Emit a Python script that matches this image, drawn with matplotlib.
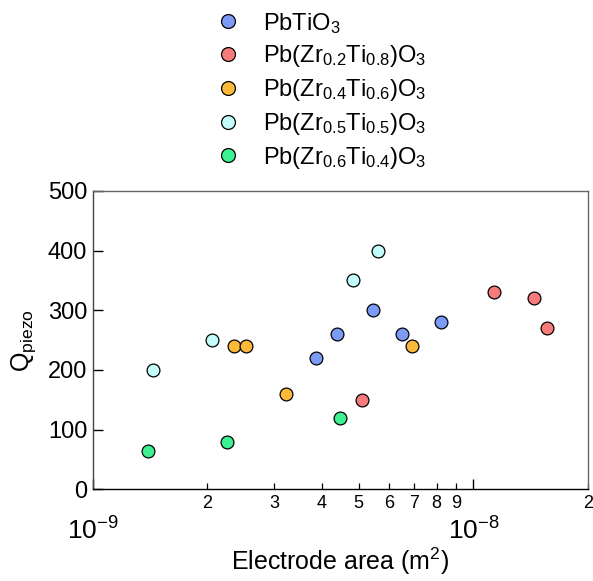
import matplotlib
matplotlib.use("Agg")
import matplotlib.pyplot as plt
from matplotlib.ticker import FixedLocator, FixedFormatter
from matplotlib.lines import Line2D

plt.rcParams['font.family'] = ['Liberation Sans', 'DejaVu Sans']
plt.rcParams['mathtext.fontset'] = 'custom'
plt.rcParams['mathtext.rm'] = 'Liberation Sans'
plt.rcParams['mathtext.it'] = 'Liberation Sans:italic'
plt.rcParams['mathtext.bf'] = 'Liberation Sans:bold'
plt.rcParams['mathtext.default'] = 'regular'

# ---- data ----
labels = [r'PbTiO$_3$',
          r'Pb(Zr$_{0.2}$Ti$_{0.8}$)O$_3$',
          r'Pb(Zr$_{0.4}$Ti$_{0.6}$)O$_3$',
          r'Pb(Zr$_{0.5}$Ti$_{0.5}$)O$_3$',
          r'Pb(Zr$_{0.6}$Ti$_{0.4}$)O$_3$']
colors = ['#7b9bf7', '#f77b7b', '#fdb93a', '#c3fdfb', '#3df193']

pto_x = [3.86e-9, 4.38e-9, 5.44e-9, 6.51e-9, 8.22e-9]
pto_y = [220, 260, 300, 260, 280]
pzt28_x = [5.10e-9, 1.136e-8, 1.445e-8, 1.556e-8]
pzt28_y = [150, 330, 320, 270]
pzt46_x = [2.35e-9, 2.53e-9, 3.22e-9, 6.91e-9]
pzt46_y = [240, 240, 160, 240]
pzt55_x = [1.44e-9, 2.06e-9, 4.82e-9, 5.61e-9]
pzt55_y = [200, 250, 350, 400]
pzt64_x = [1.395e-9, 2.25e-9, 4.47e-9]
pzt64_y = [65, 80, 120]

series_x = [pto_x, pzt28_x, pzt46_x, pzt55_x, pzt64_x]
series_y = [pto_y, pzt28_y, pzt46_y, pzt55_y, pzt64_y]

major_ticks = [1e-9, 1e-8]
major_labels = [r'$10^{-9}$', r'$10^{-8}$']
minor_ticks = [2e-9, 3e-9, 4e-9, 5e-9, 6e-9, 7e-9, 8e-9, 9e-9, 2e-8]
minor_labels = ['2', '3', '4', '5', '6', '7', '8', '9', '2']
y_ticks = [0, 100, 200, 300, 400, 500]

# ---- figure ----
fig = plt.figure(figsize=(5.93, 5.81), dpi=100)
ax = fig.add_axes([0.1563, 0.1578, 0.8353, 0.5135])

for xs, ys, c, lab in zip(series_x, series_y, colors, labels):
    ax.scatter(xs, ys, s=85, facecolor=c, edgecolor='black', linewidth=0.9,
               zorder=3, label=lab)

ax.set_xscale('log')
ax.set_xlim(1e-9, 2e-8)
ax.set_ylim(0, 500)

ax.xaxis.set_major_locator(FixedLocator(major_ticks))
ax.xaxis.set_major_formatter(FixedFormatter(major_labels))
ax.xaxis.set_minor_locator(FixedLocator(minor_ticks))
ax.xaxis.set_minor_formatter(FixedFormatter(minor_labels))
ax.set_yticks(y_ticks)

ax.tick_params(axis='x', which='major', direction='in', length=7, width=1,
               labelsize=19, pad=20, top=False)
ax.tick_params(axis='x', which='minor', direction='in', length=4, width=0.9,
               labelsize=13, pad=4, top=False)
ax.tick_params(axis='y', which='major', direction='in', length=7, width=1,
               labelsize=17, pad=4, right=False)

for side in ['top', 'right']:
    ax.spines[side].set_color('#666666')
ax.spines['left'].set_color('#444444')
ax.spines['bottom'].set_color('black')
for sp in ax.spines.values():
    sp.set_linewidth(1.0)

ax.set_xlabel(r'Electrode area (m$^2$)', fontsize=18, labelpad=1)
ax.set_ylabel(r'Q$_{piezo}$', fontsize=18, labelpad=7)

handles = [Line2D([], [], marker='o', linestyle='none', markersize=10,
                  markerfacecolor=c, markeredgecolor='black', markeredgewidth=0.9)
           for c in colors]
fig.legend(handles, labels, loc='upper left', bbox_to_anchor=(0.338, 0.998),
           frameon=False, fontsize=17, handletextpad=0.75, labelspacing=0.33,
           handlelength=1.5, borderaxespad=0)

fig.savefig('out.png', dpi=100)
